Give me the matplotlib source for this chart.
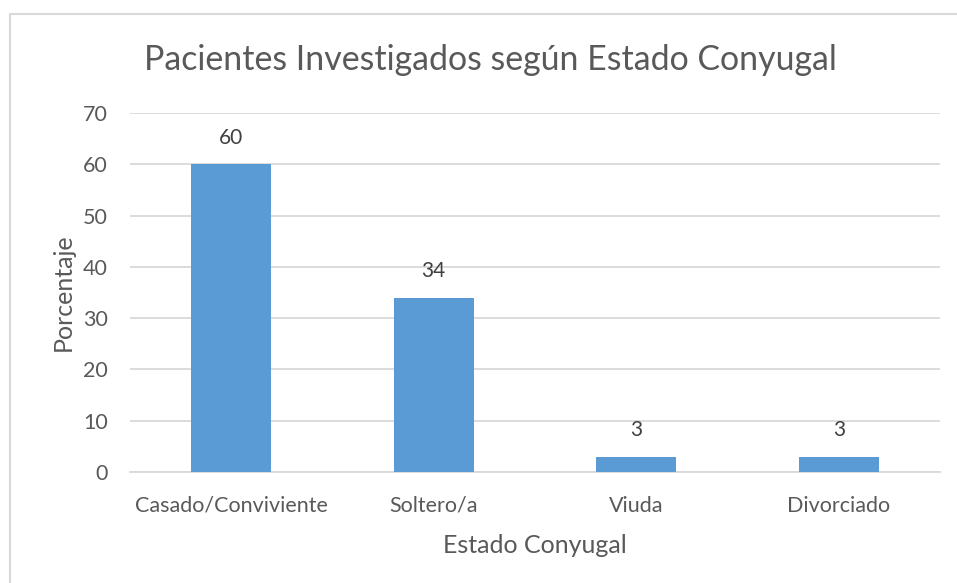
import matplotlib.pyplot as plt
from matplotlib.patches import Rectangle

categories = ["Casado/Conviviente", "Soltero/a", "Viuda", "Divorciado"]
values = [60, 34, 3, 3]
yticks = [0, 10, 20, 30, 40, 50, 60, 70]

plt.rcParams['font.family'] = ['Lato', 'DejaVu Sans']
text_color = "#595959"
grid_color = "#d9d9d9"
bar_color = "#5b9bd5"

fig = plt.figure(figsize=(9.57, 5.83), dpi=100)
W, H = 957, 583

# chart frame
fig.patches.append(Rectangle((10 / W, -0.1), 1.2, 1.1 - 14 / H, transform=fig.transFigure,
                             fill=False, edgecolor=grid_color, linewidth=1.5))

ax = fig.add_axes([130 / W, 1 - 472 / H, 810 / W, 359 / H])
x = list(range(len(categories)))
bars = ax.bar(x, values, width=0.395, color=bar_color, zorder=3)
for xi, v in zip(x, values):
    ax.annotate(str(v), (xi, v), xytext=(0, 19), textcoords="offset points",
                ha="center", va="center", fontsize=15, color="#404040")

ax.set_xlim(-0.5, len(categories) - 0.5)
ax.set_ylim(0, 70)
ax.set_yticks(yticks)
ax.set_xticks(x)
ax.set_xticklabels(categories)
ax.tick_params(length=0, labelsize=15.5, labelcolor=text_color)
ax.tick_params(axis="y", pad=16)
ax.tick_params(axis="x", pad=17)
ax.grid(axis="y", color=grid_color, linewidth=1.3, zorder=0)
for s in ["top", "right", "left"]:
    ax.spines[s].set_visible(False)
ax.spines["bottom"].set_color(grid_color)
ax.spines["bottom"].set_linewidth(1.3)

ax.set_ylabel("Porcentaje", fontsize=18, color=text_color, labelpad=6)
ax.set_xlabel("Estado Conyugal", fontsize=18, color=text_color, labelpad=13)
fig.text(490 / W, 1 - 60 / H, "Pacientes Investigados según Estado Conyugal",
         ha="center", va="center", fontsize=24.4, color=text_color)

fig.savefig("out.png", dpi=100, facecolor="white")
